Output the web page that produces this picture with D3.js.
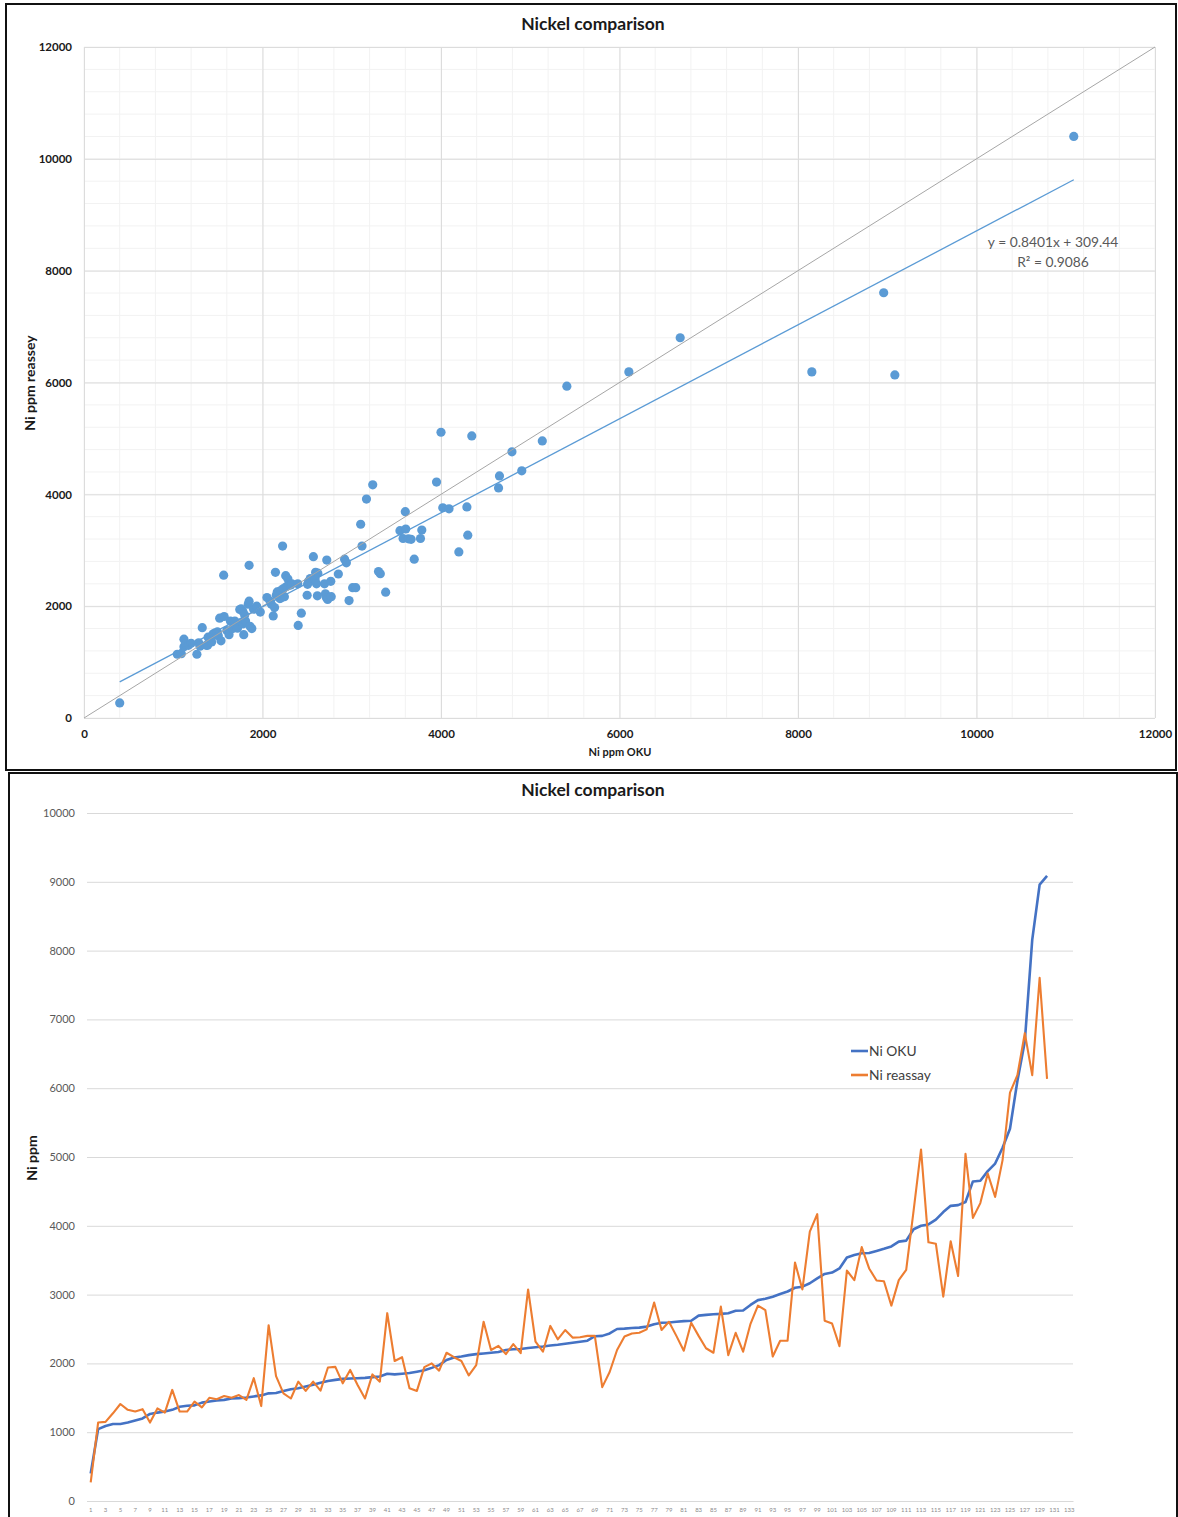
<!DOCTYPE html>
<html>
<head>
<meta charset="utf-8">
<script src="https://cdn.jsdelivr.net/npm/d3@7"></script>
<style>
  body { margin: 0; background: #fff; }
  svg { display: block; }
  text { font-family: Lato, "Open Sans", "Liberation Sans", sans-serif; }
</style>
</head>
<body>
<svg id="chart" width="1178" height="1517"></svg>
<script>
// Ni (ppm) by OKU, samples sorted ascending
const okuPpm = [
  400, 1045, 1090, 1120, 1120, 1140, 1170, 1200, 1265, 1285,
  1300, 1325, 1370, 1385, 1390, 1430, 1445, 1460, 1470, 1490,
  1495, 1505, 1520, 1535, 1565, 1570, 1600, 1625, 1640, 1665,
  1690, 1720, 1745, 1760, 1775, 1780, 1785, 1790, 1800, 1810,
  1850, 1840, 1850, 1860, 1880, 1900, 1935, 1975, 2050, 2085,
  2100, 2120, 2135, 2145, 2155, 2165, 2195, 2205, 2210, 2225,
  2235, 2245, 2260, 2270, 2285, 2300, 2315, 2330, 2395, 2400,
  2435, 2500, 2505, 2515, 2520, 2535, 2570, 2590, 2595, 2605,
  2615, 2620, 2695, 2705, 2715, 2720, 2730, 2765, 2770, 2850,
  2920, 2940, 2970, 3010, 3045, 3100, 3115, 3165, 3235, 3300,
  3320, 3380, 3540, 3575, 3600, 3605, 3635, 3665, 3700, 3770,
  3785, 3950, 4000, 4020, 4090, 4200, 4290, 4300, 4345, 4645,
  4655, 4795, 4905, 5135, 5410, 6105, 6680, 8155, 8960, 9085
];
// Ni (ppm) reassay of the same samples
const reassayPpm = [
  270, 1140, 1150, 1275, 1410, 1325, 1300, 1335, 1140, 1345,
  1285, 1615, 1300, 1300, 1445, 1360, 1500, 1480, 1525, 1500,
  1540, 1470, 1785, 1380, 2555, 1815, 1565, 1490, 1735, 1600,
  1735, 1605, 1940, 1950, 1710, 1905, 1685, 1490, 1840, 1735,
  2730, 2035, 2090, 1640, 1600, 1945, 2000, 1895, 2155, 2090,
  2035, 1825, 1975, 2605, 2195, 2255, 2135, 2280, 2150, 3075,
  2315, 2170, 2545, 2350, 2485, 2375, 2380, 2400, 2400, 1655,
  1875, 2195, 2390, 2435, 2445, 2495, 2885, 2485, 2605, 2400,
  2185, 2590, 2400, 2220, 2155, 2825, 2120, 2445, 2170, 2575,
  2840, 2775, 2100, 2330, 2330, 3465, 3075, 3915, 4170, 2620,
  2580, 2250, 3350, 3210, 3690, 3380, 3205, 3195, 2840, 3210,
  3360, 4220, 5110, 3760, 3740, 2970, 3775, 3270, 5045, 4115,
  4330, 4760, 4420, 4955, 5935, 6190, 6800, 6190, 7605, 6135
];
// Sample plotted only in the scatter
const extraOku = [11090];
const extraReassay = [10400];

// Linear fit as reported on the scatter
const trendSlope = 0.8401;
const trendIntercept = 309.44;
const trendR2 = 0.9086;

const scatterTicks = [0, 2000, 4000, 6000, 8000, 10000, 12000];
const lineYTicks = [0, 1000, 2000, 3000, 4000, 5000, 6000, 7000, 8000, 9000, 10000];
const sampleNumbers = d3.range(1, 134);
const seriesNames = ["Ni OKU", "Ni reassay"];

const svg = d3.select("#chart");
const blueMarker = "#5b9bd5";
const okuColor = "#4472c4";
const reassayColor = "#ed7d31";

// ---------- Panel frames ----------
svg.append("rect").attr("x", 6).attr("y", 4).attr("width", 1170).attr("height", 766)
  .attr("fill", "none").attr("stroke", "#111").attr("stroke-width", 2);
svg.append("rect").attr("x", 9).attr("y", 773).attr("width", 1168).attr("height", 760)
  .attr("fill", "none").attr("stroke", "#111").attr("stroke-width", 2);

// ---------- Scatter: reassay vs OKU ----------
const sx = d3.scaleLinear().domain([0, 12000]).range([84, 1155]);
const sy = d3.scaleLinear().domain([0, 12000]).range([718, 47]);
const sg = svg.append("g");

const minorSteps = d3.range(0, 12001, 400);
sg.append("g").selectAll("line").data(minorSteps).join("line")
  .attr("x1", d => sx(d)).attr("x2", d => sx(d)).attr("y1", sy(0)).attr("y2", sy(12000))
  .attr("stroke", "#f2f2f2").attr("stroke-width", 1);
sg.append("g").selectAll("line").data(minorSteps).join("line")
  .attr("x1", sx(0)).attr("x2", sx(12000)).attr("y1", d => sy(d)).attr("y2", d => sy(d))
  .attr("stroke", "#f2f2f2").attr("stroke-width", 1);

const sxAxis = sg.append("g").attr("transform", `translate(0,${sy(0)})`)
  .call(d3.axisBottom(sx).tickValues(scatterTicks).tickSize(-(sy(0) - sy(12000))).tickPadding(12).tickFormat(d3.format("d")));
const syAxis = sg.append("g").attr("transform", `translate(${sx(0)},0)`)
  .call(d3.axisLeft(sy).tickValues(scatterTicks).tickSize(-(sx(12000) - sx(0))).tickPadding(12).tickFormat(d3.format("d")));
[sxAxis, syAxis].forEach(a => {
  a.select(".domain").remove();
  a.selectAll(".tick line").attr("stroke", "#dcdcdc");
  a.selectAll(".tick text").attr("font-size", 11.5).attr("font-weight", 700).attr("fill", "#1a1a1a");
});

const points = okuPpm.map((d, i) => [d, reassayPpm[i]])
  .concat(extraOku.map((d, i) => [d, extraReassay[i]]));

sg.append("g").selectAll("circle").data(points).join("circle")
  .attr("cx", d => sx(d[0])).attr("cy", d => sy(d[1])).attr("r", 4.6)
  .attr("fill", blueMarker);

// 1:1 reference line
sg.append("line")
  .attr("x1", sx(0)).attr("y1", sy(0)).attr("x2", sx(12000)).attr("y2", sy(12000))
  .attr("stroke", "#a6a6a6").attr("stroke-width", 1);

// Linear trend over the sampled OKU range
const xMin = d3.min(points, d => d[0]);
const xMax = d3.max(points, d => d[0]);
sg.append("line")
  .attr("x1", sx(xMin)).attr("y1", sy(trendSlope * xMin + trendIntercept))
  .attr("x2", sx(xMax)).attr("y2", sy(trendSlope * xMax + trendIntercept))
  .attr("stroke", blueMarker).attr("stroke-width", 1.3);

sg.append("text").attr("x", 1053).attr("y", 247).attr("text-anchor", "middle")
  .attr("font-size", 13.8).attr("fill", "#595959")
  .text(`y = ${trendSlope}x + ${trendIntercept}`);
sg.append("text").attr("x", 1053).attr("y", 267).attr("text-anchor", "middle")
  .attr("font-size", 13.8).attr("fill", "#595959")
  .text(`R² = ${trendR2}`);

sg.append("text").attr("x", 593).attr("y", 30).attr("text-anchor", "middle")
  .attr("font-size", 17.5).attr("font-weight", 700).attr("fill", "#1a1a1a")
  .text("Nickel comparison");
sg.append("text").attr("x", 620).attr("y", 756).attr("text-anchor", "middle")
  .attr("font-size", 11).attr("font-weight", 700).attr("fill", "#1a1a1a")
  .text("Ni ppm OKU");
sg.append("text").attr("transform", `translate(35,383) rotate(-90)`).attr("text-anchor", "middle")
  .attr("font-size", 14).attr("font-weight", 700).attr("fill", "#1a1a1a")
  .text("Ni ppm reassey");

// ---------- Line chart: both series by sample ----------
const lx = d3.scaleBand().domain(sampleNumbers).range([87, 1073]);
const ly = d3.scaleLinear().domain([0, 10000]).range([1501, 813]);
const lg = svg.append("g");
const cx = i => lx(sampleNumbers[i]) + lx.bandwidth() / 2;

const lyAxis = lg.append("g").attr("transform", `translate(${lx.range()[0]},0)`)
  .call(d3.axisLeft(ly).tickValues(lineYTicks).tickSize(-(lx.range()[1] - lx.range()[0])).tickPadding(12).tickFormat(d3.format("d")));
lyAxis.select(".domain").remove();
lyAxis.selectAll(".tick line").attr("stroke", "#d9d9d9");
lyAxis.selectAll(".tick text").attr("font-size", 11).attr("fill", "#595959");

const lxAxis = lg.append("g").attr("transform", `translate(0,${ly(0)})`)
  .call(d3.axisBottom(lx).tickValues(sampleNumbers.filter(d => d % 2 === 1)).tickSize(0).tickPadding(7));
lxAxis.select(".domain").attr("stroke", "#d9d9d9");
lxAxis.selectAll(".tick text").attr("font-size", 6).attr("fill", "#8c8c8c");

const lineGen = d3.line().x((d, i) => cx(i)).y(d => ly(d));
lg.append("path").datum(okuPpm).attr("d", lineGen)
  .attr("fill", "none").attr("stroke", okuColor).attr("stroke-width", 2.6).attr("stroke-linejoin", "round");
lg.append("path").datum(reassayPpm).attr("d", lineGen)
  .attr("fill", "none").attr("stroke", reassayColor).attr("stroke-width", 2.1).attr("stroke-linejoin", "round");

lg.append("text").attr("x", 593).attr("y", 796).attr("text-anchor", "middle")
  .attr("font-size", 17.5).attr("font-weight", 700).attr("fill", "#1a1a1a")
  .text("Nickel comparison");
lg.append("text").attr("transform", `translate(37,1158) rotate(-90)`).attr("text-anchor", "middle")
  .attr("font-size", 14).attr("font-weight", 700).attr("fill", "#1a1a1a")
  .text("Ni ppm");

// Legend
const legend = lg.append("g").selectAll("g").data(seriesNames).join("g")
  .attr("transform", (d, i) => `translate(851,${1051 + i * 24})`);
legend.append("line").attr("x1", 0).attr("x2", 17).attr("y1", 0).attr("y2", 0)
  .attr("stroke", (d, i) => i === 0 ? okuColor : reassayColor).attr("stroke-width", 2.6);
legend.append("text").attr("x", 18).attr("y", 5).attr("font-size", 13.8).attr("fill", "#404040")
  .text(d => d);
</script>
</body>
</html>
